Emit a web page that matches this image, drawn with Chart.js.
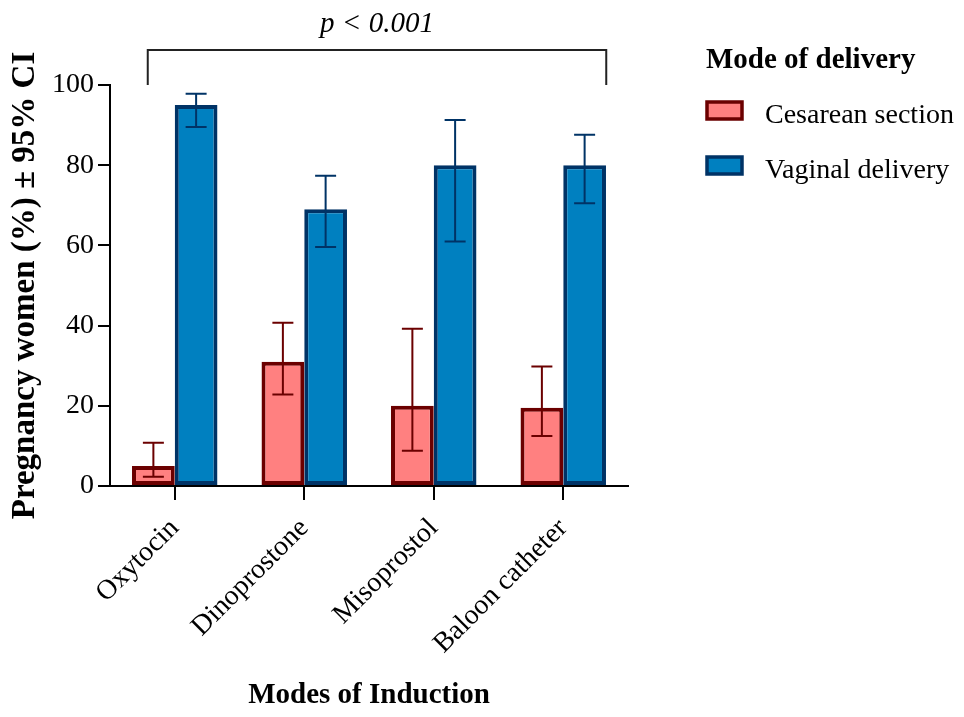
<!DOCTYPE html>
<html>
<head>
<meta charset="utf-8">
<script src="https://cdn.jsdelivr.net/npm/chart.js@4"></script>
<style>
  body { margin: 0; background: #fff; }
  #wrap { width: 964px; height: 717px; }
</style>
</head>
<body>
<div id="wrap"><canvas id="myChart"></canvas></div>
<script>
  // data
  const modes = ["Oxytocin", "Dinoprostone", "Misoprostol", "Baloon catheter"];
  const cesarean = [5, 31, 20, 19.5];
  const cesareanLow = [2.3, 22.8, 8.8, 12.5];
  const cesareanHigh = [10.8, 40.7, 39.2, 29.8];
  const vaginal = [95, 69, 80, 80];
  const vaginalLow = [89.5, 59.6, 61, 70.5];
  const vaginalHigh = [97.8, 77.4, 91.3, 87.6];
  const yTicks = [0, 20, 40, 60, 80, 100];

  const serif = "'Liberation Serif', 'Times New Roman', serif";

  // error bars with caps
  const errorBars = {
    id: "errorBars",
    afterDatasetsDraw(chart) {
      const ctx = chart.ctx;
      const y = chart.scales.y;
      chart.data.datasets.forEach((ds, i) => {
        const meta = chart.getDatasetMeta(i);
        meta.data.forEach((bar, j) => {
          const top = y.getPixelForValue(ds.errHigh[j]);
          const bot = y.getPixelForValue(ds.errLow[j]);
          ctx.save();
          ctx.strokeStyle = ds.borderColor;
          ctx.lineWidth = 2;
          ctx.beginPath();
          ctx.moveTo(bar.x, top);
          ctx.lineTo(bar.x, bot);
          ctx.moveTo(bar.x - 10.5, top);
          ctx.lineTo(bar.x + 10.5, top);
          ctx.moveTo(bar.x - 10.5, bot);
          ctx.lineTo(bar.x + 10.5, bot);
          ctx.stroke();
          ctx.restore();
        });
      });
    }
  };

  // significance bracket + legend on the right
  const extras = {
    id: "extras",
    afterDraw(chart) {
      const ctx = chart.ctx;
      const x = chart.scales.x;
      const area = chart.chartArea;
      const left = x.getPixelForValue(0) - 27;
      const right = x.getPixelForValue(3) + 43;
      ctx.save();
      ctx.strokeStyle = "#222";
      ctx.lineWidth = 2;
      ctx.beginPath();
      ctx.moveTo(left, area.top);
      ctx.lineTo(left, 50);
      ctx.lineTo(right, 50);
      ctx.lineTo(right, area.top);
      ctx.stroke();
      ctx.fillStyle = "#000";
      ctx.font = "italic 29px " + serif;
      ctx.textAlign = "center";
      ctx.textBaseline = "alphabetic";
      ctx.fillText("p < 0.001", (left + right) / 2, 32);

      // legend
      ctx.textAlign = "left";
      ctx.font = "bold 29px " + serif;
      ctx.fillText("Mode of delivery", 706, 68);
      ctx.font = "28px " + serif;
      chart.data.datasets.forEach((ds, i) => {
        const by = 102 + i * 55;
        ctx.fillStyle = ds.backgroundColor;
        ctx.fillRect(707, by, 35, 17);
        ctx.strokeStyle = ds.borderColor;
        ctx.lineWidth = 3.5;
        ctx.strokeRect(707, by, 35, 17);
        ctx.fillStyle = "#000";
        ctx.fillText(ds.label, 765, by + 21);
      });
      ctx.restore();
    }
  };

  new Chart(document.getElementById("myChart"), {
    type: "bar",
    data: {
      labels: modes,
      datasets: [
        {
          label: "Cesarean section",
          data: cesarean,
          errLow: cesareanLow,
          errHigh: cesareanHigh,
          backgroundColor: "#ff8080",
          borderColor: "#6b0000",
          borderWidth: 4,
          borderSkipped: false
        },
        {
          label: "Vaginal delivery",
          data: vaginal,
          errLow: vaginalLow,
          errHigh: vaginalHigh,
          backgroundColor: "#0080c0",
          borderColor: "#003366",
          borderWidth: 4,
          borderSkipped: false
        }
      ]
    },
    options: {
      responsive: true,
      maintainAspectRatio: false,
      animation: false,
      categoryPercentage: 0.66,
      barPercentage: 1,
      layout: { padding: { left: 6, right: 336, top: 85, bottom: 4 } },
      plugins: {
        legend: { display: false },
        tooltip: { enabled: false }
      },
      scales: {
        x: {
          grid: { display: true, offset: false, drawOnChartArea: false, tickLength: 14, color: "#000", lineWidth: 2 },
          border: { color: "#000", width: 2 },
          ticks: {
            color: "#000",
            font: { family: serif, size: 28 },
            minRotation: 45,
            maxRotation: 45,
            padding: 12
          },
          title: {
            display: true,
            text: "Modes of Induction",
            color: "#000",
            font: { family: serif, size: 29, weight: "bold" },
            padding: { top: 0, bottom: 0 }
          },
          afterFit(scale) { scale.height = 717 - 486 - 4; }
        },
        y: {
          min: 0,
          max: 100,
          afterBuildTicks(scale) { scale.ticks = yTicks.map(v => ({ value: v })); },
          grid: { display: true, drawOnChartArea: false, tickLength: 12, color: "#000", lineWidth: 2 },
          border: { color: "#000", width: 2 },
          ticks: {
            color: "#000",
            font: { family: serif, size: 28 },
            padding: 4
          },
          title: {
            display: true,
            text: "Pregnancy women (%) ± 95% CI",
            color: "#000",
            font: { family: serif, size: 33, weight: "bold" },
            padding: { top: 0, bottom: 0 }
          },
          afterFit(scale) { scale.width = 104; }
        }
      }
    },
    plugins: [errorBars, extras]
  });
</script>
</body>
</html>
